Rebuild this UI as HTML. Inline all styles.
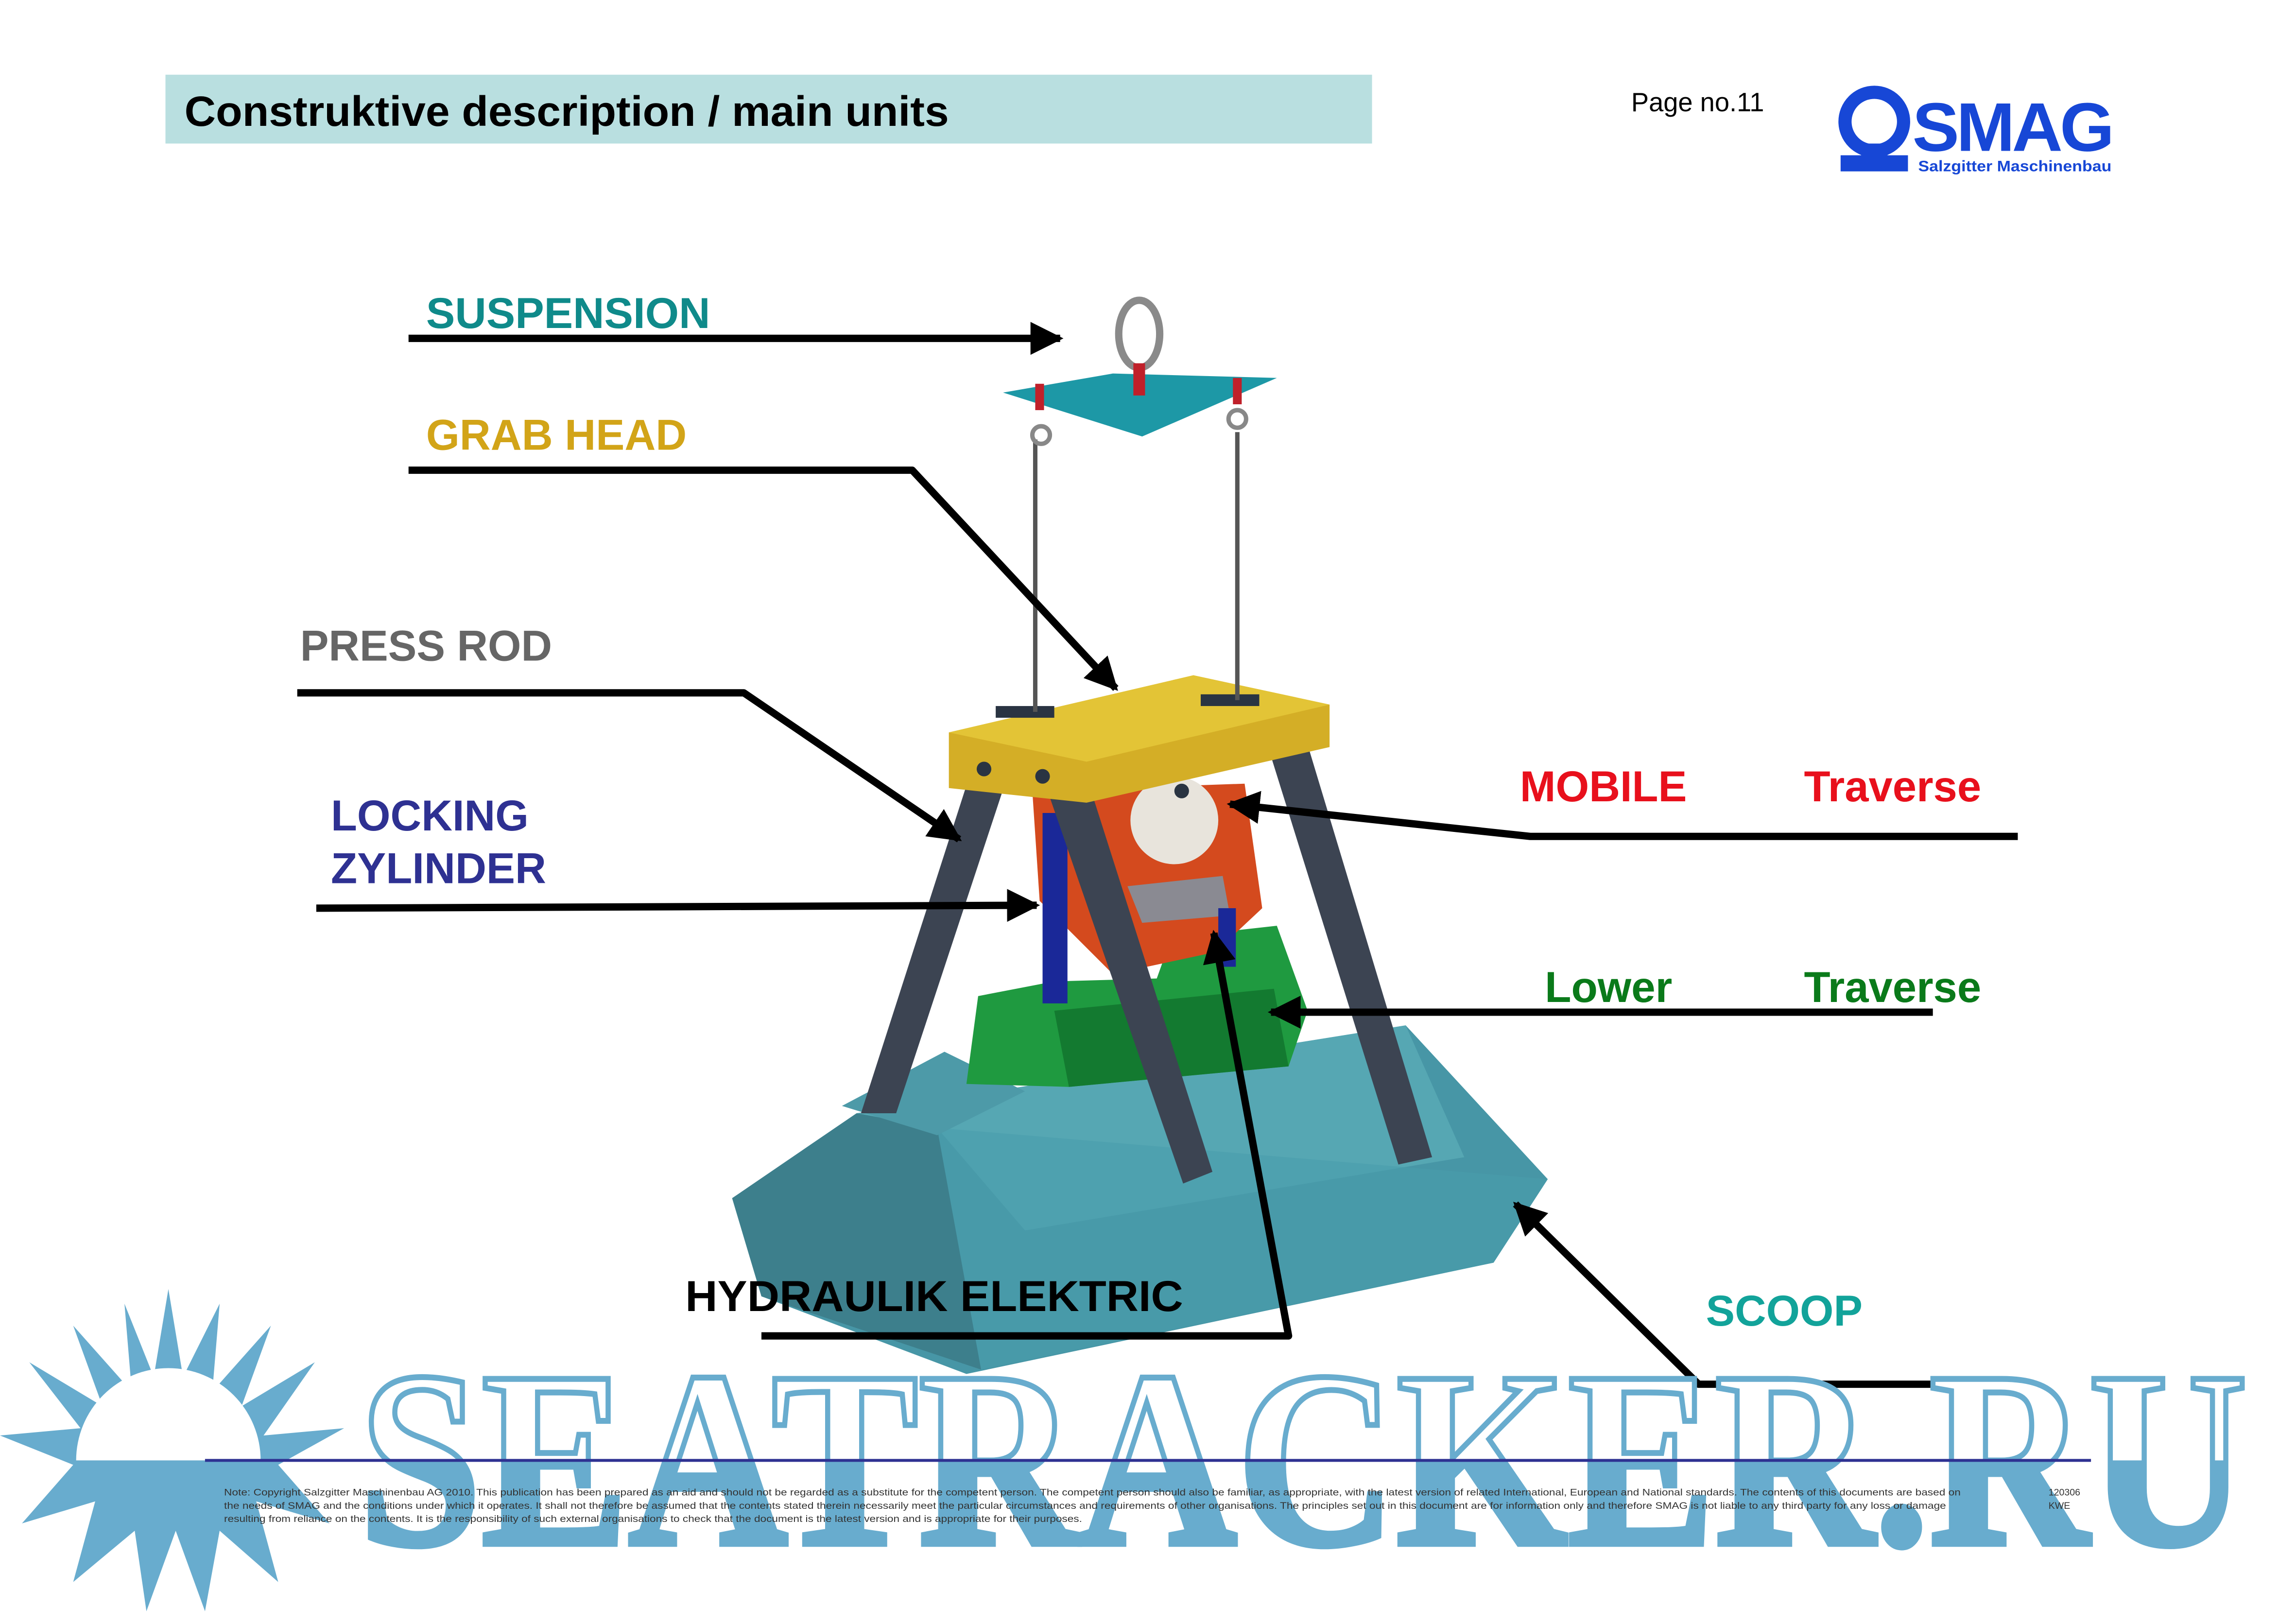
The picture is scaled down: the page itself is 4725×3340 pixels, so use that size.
<!DOCTYPE html>
<html><head><meta charset="utf-8"><style>
html,body{margin:0;padding:0;background:#fff;}
svg{display:block;}
</style></head><body>
<svg width="4725" height="3340" viewBox="0 0 1568 1108" preserveAspectRatio="none" xmlns="http://www.w3.org/2000/svg" font-family="Liberation Sans, Arial, sans-serif">
<defs>
<marker id="ah" viewBox="0 0 10 10" refX="9" refY="5" markerWidth="4.5" markerHeight="4.5" orient="auto" markerUnits="strokeWidth">
<path d="M0,0 L10,5 L0,10 z" fill="#000"/></marker>
</defs>
<rect x="0" y="0" width="1568" height="1108" fill="#fff"/>
<!-- header -->
<rect x="113" y="51" width="824" height="47" fill="#b9dfe0"/>
<text x="126" y="86" font-size="29" font-weight="bold" fill="#000" textLength="522" lengthAdjust="spacingAndGlyphs">Construktive description / main units</text>
<text x="1114" y="76" font-size="18" fill="#000">Page no.11</text>
<!-- SMAG logo -->
<g fill="#1747d6">
<circle cx="1280" cy="83" r="20" fill="none" stroke="#1747d6" stroke-width="9"/>
<rect x="1271" y="98" width="18" height="8"/>
<rect x="1257" y="106" width="46" height="11"/>
<text x="1306" y="103" font-size="47" font-weight="bold" letter-spacing="-2" textLength="136" lengthAdjust="spacingAndGlyphs">SMAG</text>
<text x="1310" y="117" font-size="10.5" font-weight="bold" textLength="132" lengthAdjust="spacingAndGlyphs">Salzgitter Maschinenbau</text>
</g>
<!-- scoop -->
<polygon points="500,818 585,760 960,700 1057,805 1020,862 660,938 520,885" fill="#4796a6"/>
<polygon points="500,818 585,760 640,770 670,935 520,885" fill="#3d7f8c"/>
<polygon points="585,760 960,700 1000,790 700,840 640,770" fill="#56a7b3"/>
<polygon points="640,770 1057,805 1020,862 670,935" fill="#4a9dab" opacity="0.6"/>
<polygon points="575,755 645,718 700,745 640,775" fill="#4d9aa8"/>
<!-- green lower traverse -->
<polygon points="660,740 668,680 720,670 790,668 800,640 872,632 893,690 880,728 730,742" fill="#1f9a40"/>
<polygon points="720,690 870,675 880,728 730,742" fill="#137a30"/>
<!-- orange mobile traverse -->
<polygon points="705,540 850,535 862,620 830,650 760,665 710,615" fill="#d44a1e"/>
<circle cx="802" cy="560" r="30" fill="#e8e4dc"/>
<polygon points="770,605 835,598 840,625 780,630" fill="#8a8a92"/>
<rect x="712" y="555" width="17" height="130" fill="#1a2898"/>
<rect x="832" y="620" width="12" height="40" fill="#1a2898"/>
<!-- legs -->
<polygon points="662,530 688,530 612,760 588,760" fill="#3c4452"/>
<polygon points="712,530 742,530 828,800 808,808" fill="#3c4452"/>
<polygon points="866,510 892,505 978,790 955,795" fill="#3c4452"/>
<!-- grab head -->
<polygon points="648,500 815,461 908,481 908,510 742,548 648,538" fill="#d4ae26"/>
<polygon points="648,500 815,461 908,481 742,520" fill="#e3c436"/>
<rect x="680" y="482" width="40" height="8" fill="#2a3442"/>
<rect x="820" y="474" width="40" height="8" fill="#2a3442"/>
<circle cx="672" cy="525" r="5" fill="#2a3442"/>
<circle cx="712" cy="530" r="5" fill="#2a3442"/>
<circle cx="807" cy="540" r="5" fill="#2a3442"/>
<!-- rods -->
<line x1="707" y1="300" x2="707" y2="486" stroke="#555" stroke-width="3"/>
<line x1="845" y1="295" x2="845" y2="478" stroke="#555" stroke-width="3"/>
<circle cx="711" cy="297" r="6" fill="none" stroke="#888" stroke-width="3"/>
<circle cx="845" cy="286" r="6" fill="none" stroke="#888" stroke-width="3"/>
<!-- suspension -->
<polygon points="685,268 760,255 872,258 780,298" fill="#1d98a6"/>
<ellipse cx="778" cy="228" rx="14" ry="23" fill="none" stroke="#8a8a8a" stroke-width="5"/>
<rect x="774" y="248" width="8" height="22" fill="#c0202a"/>
<rect x="707" y="262" width="6" height="18" fill="#c0202a"/>
<rect x="842" y="258" width="6" height="18" fill="#c0202a"/>
<!-- connectors -->
<g stroke="#000" stroke-width="5" fill="none" stroke-linejoin="round">
<polyline points="279,231 724,231" marker-end="url(#ah)"/>
<polyline points="279,321 623,321 762,470" marker-end="url(#ah)"/>
<polyline points="203,473 508,473 655,573" marker-end="url(#ah)"/>
<polyline points="216,620 708,618" marker-end="url(#ah)"/>
<polyline points="1378,571 1045,571 840,549" marker-end="url(#ah)"/>
<polyline points="1320,691 868,691" marker-end="url(#ah)"/>
<polyline points="520,912 880,912 829,637" marker-end="url(#ah)"/>
<polyline points="1352,945 1160,945 1035,822" marker-end="url(#ah)"/>
</g>
<g font-weight="bold" font-size="29.5">
<text x="291" y="224" fill="#0f8a8a" textLength="194" lengthAdjust="spacingAndGlyphs">SUSPENSION</text>
<text x="291" y="307" fill="#d2a418" textLength="178" lengthAdjust="spacingAndGlyphs">GRAB HEAD</text>
<text x="205" y="451" fill="#666" textLength="172" lengthAdjust="spacingAndGlyphs">PRESS ROD</text>
<text x="226" y="567" fill="#2e3192" textLength="135" lengthAdjust="spacingAndGlyphs">LOCKING</text>
<text x="226" y="603" fill="#2e3192" textLength="147" lengthAdjust="spacingAndGlyphs">ZYLINDER</text>
<text x="1038" y="547" fill="#e8101c" textLength="114" lengthAdjust="spacingAndGlyphs">MOBILE</text>
<text x="1232" y="547" fill="#e8101c" textLength="121" lengthAdjust="spacingAndGlyphs">Traverse</text>
<text x="1055" y="684" fill="#0a7a1a" textLength="87" lengthAdjust="spacingAndGlyphs">Lower</text>
<text x="1232" y="684" fill="#0a7a1a" textLength="121" lengthAdjust="spacingAndGlyphs">Traverse</text>
<text x="468" y="895" fill="#000" textLength="340" lengthAdjust="spacingAndGlyphs">HYDRAULIK  ELEKTRIC</text>
<text x="1165" y="905" fill="#12a39a" textLength="107" lengthAdjust="spacingAndGlyphs">SCOOP</text>
</g>
<!-- watermark sun -->
<g fill="#68acce">
<polygon points="115,880 125,940 150,890 145,950 185,905 165,960 215,930 180,980 235,975 190,1000 225,1040 175,1025 190,1080 150,1045 140,1100 120,1045 100,1100 92,1045 50,1080 65,1025 15,1040 50,1000 0,980 55,975 20,930 70,960 50,905 90,950 85,890 105,940"/>
</g>
<path d="M52,997 A63,63 0 0 1 178,997 Z" fill="#fff"/>
<!-- watermark text -->
<text x="245" y="1054" style="font-family:'Liberation Serif',serif" font-weight="bold" font-size="172" textLength="1290" lengthAdjust="spacingAndGlyphs" fill="#fff" stroke="#68acce" stroke-width="4">SEATRACKER.RU</text>
<clipPath id="bot"><rect x="0" y="997" width="1568" height="111"/></clipPath>
<text x="245" y="1054" style="font-family:'Liberation Serif',serif" font-weight="bold" font-size="172" textLength="1290" lengthAdjust="spacingAndGlyphs" fill="#68acce" clip-path="url(#bot)">SEATRACKER.RU</text>
<!-- footer -->
<line x1="140" y1="997" x2="1428" y2="997" stroke="#2e3192" stroke-width="2"/>
<g font-size="6.5" fill="#333">
<text x="153" y="1021" textLength="1186" lengthAdjust="spacingAndGlyphs">Note: Copyright Salzgitter Maschinenbau AG 2010. This publication has been prepared as an aid and should not be regarded as a substitute for the competent person. The competent person should also be familiar, as appropriate, with the latest version of related International, European and National standards. The contents of this documents are based on</text>
<text x="153" y="1030" textLength="1176" lengthAdjust="spacingAndGlyphs">the needs of SMAG and the conditions under which it operates. It shall not therefore be assumed that the contents stated therein necessarily meet the particular circumstances and requirements of other organisations. The principles set out in this document are for information only and therefore SMAG is not liable to any third party for any loss or damage</text>
<text x="153" y="1039" textLength="586" lengthAdjust="spacingAndGlyphs">resulting from reliance on the contents. It is the responsibility of such external organisations to check that the document is the latest version and is appropriate for their purposes.</text>
<text x="1399" y="1021">120306</text>
<text x="1399" y="1030">KWE</text>
</g>
</svg>
</body></html>
